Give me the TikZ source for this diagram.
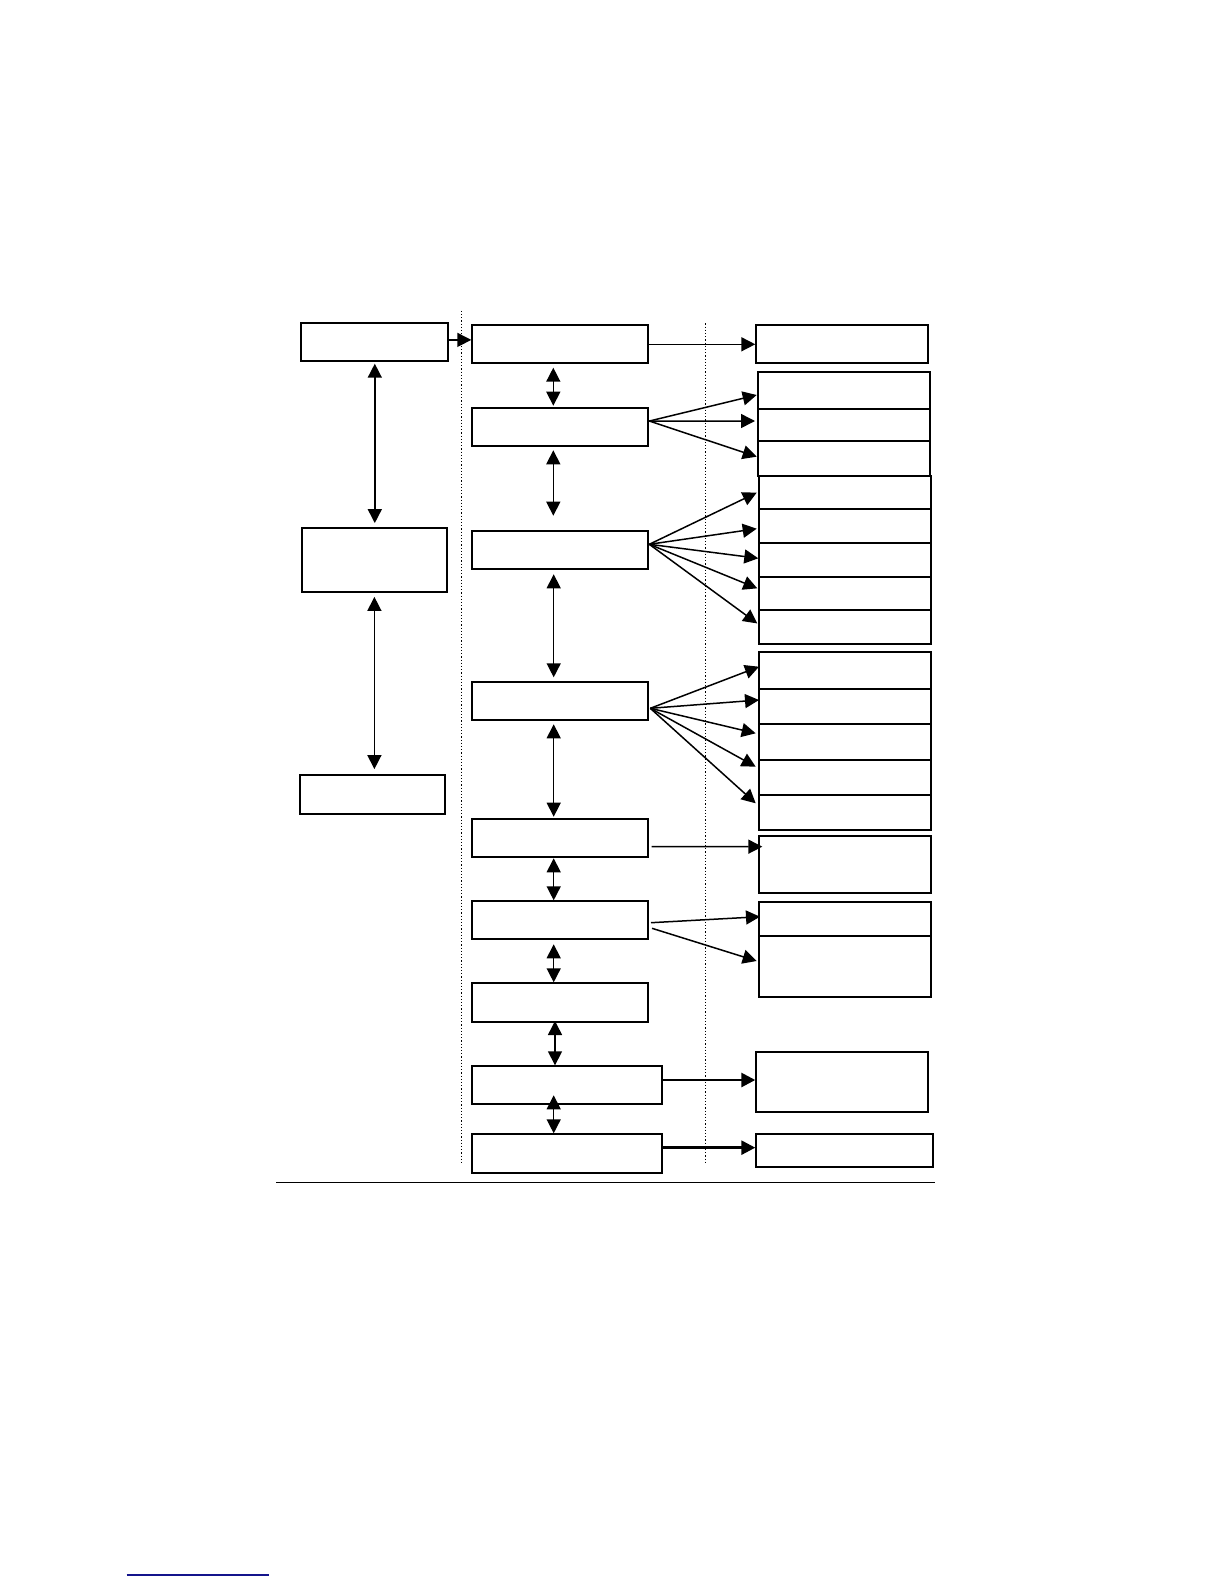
\documentclass[tikz,border=0pt]{standalone}
\usepackage{tikz}
\usetikzlibrary{arrows.meta,calc,fit}
\definecolor{rulenavy}{RGB}{20,20,140}

\begin{document}
\begin{tikzpicture}[x=0.5pt,y=-0.5pt,
  blk/.style={draw, line width=1pt, inner sep=0pt},
  arr/.style={-{Triangle[length=7pt,width=7pt]}, line width=0.75pt},
  darr/.style={{Triangle[length=7pt,width=7pt]}-{Triangle[length=7pt,width=7pt]}, line width=0.75pt},
  sep/.style={line width=0.6pt, densely dotted}]
\useasboundingbox (0,0) rectangle (1224,1584);

\node[blk, fit={(301.3,323.3) (448.3,361.3)}] (l1) {};
\node[blk, fit={(302.3,527.7) (446.5,592.3)}] (l2) {};
\node[blk, fit={(300.3,775.3) (444.7,814.3)}] (l3) {};

\foreach \n/\t/\b in {m1/325.3/363.3, m2/407.7/446, m3/531.3/569.3, m4/681.7/720.3,
                      m5/819.3/857.3, m6/901.3/939.3, m7/983.3/1022}
  \node[blk, fit={(472.3,\t) (648.3,\b)}] (\n) {};
\node[blk, fit={(472.3,1066.3) (662.3,1104.3)}] (m8) {};
\node[blk, fit={(472.3,1134.3) (662.3,1173)}] (m9) {};

\node[blk, fit={(756.3,325.3) (928.3,363)}] (r1) {};
\foreach \n/\t/\b in {r2/372.3/408.7, r3/408.7/441, r4/441/475.7}
  \node[blk, fit={(758.3,\t) (930,\b)}] (\n) {};
\foreach \n/\t/\b in {r5/476/509.3, r6/509.3/543.3, r7/543.3/576.7, r8/576.7/610, r9/610/643.5,
                      r10/651.7/689, r11/689/724.3, r12/724.3/759.7, r13/759.7/795.3, r14/795.3/830.3,
                      r15/836/893.3, r16/901.7/936, r17/936/996.7}
  \node[blk, fit={(759.3,\t) (931,\b)}] (\n) {};
\node[blk, fit={(756.3,1052.3) (928.3,1112.3)}] (r18) {};
\node[blk, fit={(756.3,1134.3) (933.3,1167.3)}] (r19) {};

\draw[sep] (461.7,310.7) -- (461.7,1162.7);
\draw[sep] (705.7,323.3) -- (705.7,1162.7);
\draw[line width=0.75pt] (276,1182.3) -- (935,1182.3);
\draw[rulenavy, line width=0.75pt] (126.7,1575) -- (269,1575);

\coordinate (s1) at ([yshift=1.2pt]l1.east);
\draw[arr] (s1) -- (s1 -| m1.west);
\draw[darr, shorten <=0.7pt, shorten >=1.8pt] (l1.south) -- (l1.south |- l2.north);
\draw[darr, shorten <=1.8pt, shorten >=2.6pt] (l2.south) -- (l2.south |- l3.north);

\foreach \a/\b/\dx/\s/\e in {m1/m2/-3.5/1.7/0.5, m2/m3/-3.5/1.65/7.3, m3/m4/-3.3/2/1.7,
                             m4/m5/-3.3/1.5/0.8, m5/m6/-3.3/0/0, m6/m7/-3.3/2/0,
                             m7/m8/-2.65/-1/0, m8/m9/-6.8/-5/0}{
  \coordinate (t) at ([xshift=\dx pt]\a.south);
  \draw[darr, shorten <=\s pt, shorten >=\e pt] (t) -- (t |- \b.north);
}

\draw[arr] (m1.east) -- (m1.east -| r1.west);

\coordinate (f2) at ([yshift=2.9pt]m2.east);
\foreach \r/\dx/\dy in {r2/-0.6/4.5, r3/-2.3/-3.85, r4/-0.6/-1.65}
  \draw[arr] (f2) -- ([shift={(\dx,\dy)}]\r.west);

\coordinate (f3) at ([yshift=3pt]m3.east);
\foreach \r/\dx/\dy in {r5/-1.6/0, r6/-1.6/2.4, r7/0/-1.7, r8/-1/-5, r9/-1/-3.3}
  \draw[arr] (f3) -- ([shift={(\dx,\dy)}]\r.west);

\coordinate (f4) at ([shift={(1,7.3)}]m4.east);
\foreach \r/\dx/\dy in {r10/0.7/-3.65, r11/0.7/-6.65, r12/-2.6/-8.7, r13/-2.6/-10.8, r14/-2.6/-9.5}
  \draw[arr] (f4) -- ([shift={(\dx,\dy)}]\r.west);

\draw[arr] ([shift={(2.4,8.4)}]m5.east) -- ([shift={(4,-18)}]r15.west);
\draw[arr] ([shift={(1.7,2.4)}]m6.east) -- ([shift={(1.7,-2.15)}]r16.west);
\draw[arr] ([shift={(2.7,8)}]m6.east) -- ([shift={(-1.6,-5.35)}]r17.west);

\coordinate (s8) at ([yshift=2.65pt]m8.east);
\draw[arr, line width=1.35pt] (s8) -- (s8 -| r18.west);
\coordinate (s9) at ([yshift=3pt]m9.east);
\draw[arr, line width=1.35pt] (s9) -- (s9 -| r19.west);
\end{tikzpicture}
\end{document}
